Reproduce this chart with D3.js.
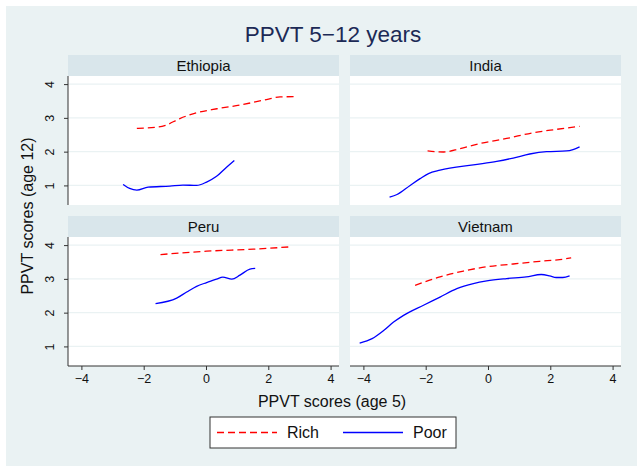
<!DOCTYPE html>
<html>
<head>
<meta charset="utf-8">
<script src="https://cdn.jsdelivr.net/npm/d3@7"></script>
<style>
  body { margin: 0; background: #fff; }
  svg { display: block; font-family: "Liberation Sans", Arial, Helvetica, sans-serif; }
</style>
</head>
<body>
<div id="chart"></div>
<script>
// data (x = PPVT age 5, y = PPVT age 12)
const countries = ["Ethiopia", "India", "Peru", "Vietnam"]
const xTicks = [-4, -2, 0, 2, 4]
const yTicks = [1, 2, 3, 4]

const ethiopiaRich = [[-2.22,2.69],[-1.6,2.72],[-1.3,2.78],[-0.84,2.98],[-0.42,3.12],[0.35,3.27],[1.09,3.38],[1.83,3.52],[2.38,3.62],[2.86,3.63]]
const ethiopiaPoor = [[-2.66,1.03],[-2.45,0.91],[-2.22,0.86],[-1.86,0.95],[-1.16,0.98],[-0.74,1.01],[-0.3,1.0],[0.02,1.10],[0.34,1.27],[0.66,1.54],[0.91,1.74]]
const indiaRich = [[-1.94,2.02],[-1.43,1.99],[-0.9,2.09],[-0.26,2.24],[0.6,2.39],[1.45,2.56],[2.2,2.66],[2.94,2.75]]
const indiaPoor = [[-3.16,0.65],[-2.92,0.73],[-2.5,1.0],[-2.18,1.2],[-1.91,1.35],[-1.54,1.45],[-0.47,1.61],[0.28,1.71],[0.81,1.81],[1.34,1.93],[1.88,2.0],[2.52,2.02],[2.73,2.06],[2.94,2.14]]
const peruRich = [[-1.46,3.72],[0.02,3.82],[1.52,3.88],[2.75,3.95]]
const peruPoor = [[-1.62,2.27],[-0.94,2.43],[-0.62,2.61],[-0.3,2.78],[0.02,2.89],[0.34,2.99],[0.54,3.05],[0.83,2.99],[1.09,3.11],[1.41,3.29],[1.58,3.31]]
const vietnamRich = [[-2.34,2.81],[-1.54,3.06],[-0.79,3.23],[-0.04,3.36],[0.81,3.44],[1.66,3.52],[2.3,3.57],[2.67,3.62]]
const vietnamPoor = [[-4.12,1.10],[-3.72,1.23],[-3.35,1.47],[-3.03,1.72],[-2.71,1.92],[-2.07,2.22],[-1.54,2.46],[-1.0,2.71],[-0.47,2.86],[-0.04,2.94],[0.6,3.01],[1.23,3.06],[1.71,3.13],[1.98,3.09],[2.19,3.04],[2.4,3.04],[2.62,3.09]]

const richSeries = [ethiopiaRich, indiaRich, peruRich, vietnamRich]
const poorSeries = [ethiopiaPoor, indiaPoor, peruPoor, vietnamPoor]

const W = 637, H = 466
const svg = d3.select('#chart').append('svg')
    .attr('width', W)
    .attr('height', H)

// background
svg.append('rect').attr('x', 6).attr('y', 6).attr('width', W - 6).attr('height', H - 6).attr('fill', '#eaf2f3')

// panel geometry
const panelW = 271, plotH = 129, stripH = 21
const colX = [68, 350]
const rowY = [55, 216]

const xScale = d3.scaleLinear().domain([-4.43, 4.27]).range([0, panelW])
const yScale = d3.scaleLinear().domain([0.42, 4.24]).range([plotH, 0])

const line = d3.line()
    .x(d => xScale(d[0]))
    .y(d => yScale(d[1]))
    .curve(d3.curveMonotoneX)

countries.forEach((name, i) => {
    const col = i % 2, row = Math.floor(i / 2)
    const g = svg.append('g')
        .attr('transform', `translate(${colX[col]}, ${rowY[row]})`)

    // strip
    g.append('rect').attr('width', panelW).attr('height', stripH).attr('fill', '#d9e6eb')
    g.append('text')
        .attr('x', panelW / 2).attr('y', 15.5)
        .attr('text-anchor', 'middle')
        .attr('font-size', 15)
        .attr('fill', '#111')
        .text(name)

    const p = g.append('g').attr('transform', `translate(0, ${stripH})`)
    p.append('rect').attr('width', panelW).attr('height', plotH).attr('fill', '#fff')

    // grid
    p.selectAll('.grid').data(yTicks).join('line')
        .attr('x1', 0).attr('x2', panelW)
        .attr('y1', d => yScale(d)).attr('y2', d => yScale(d))
        .attr('stroke', '#eaf2f3').attr('stroke-width', 1.2)

    // y axis on left column
    if (col === 0) {
        const yAxis = p.append('g').call(d3.axisLeft(yScale).tickValues(yTicks).tickSize(4).tickFormat(d3.format('d')))
        yAxis.select('.domain').attr('d', `M0,0V${plotH}`).attr('stroke', '#333')
        yAxis.selectAll('.tick line').attr('stroke', '#333')
        yAxis.selectAll('.tick text')
            .attr('x', null).attr('dy', null)
            .attr('transform', 'translate(-14,0) rotate(-90)')
            .attr('text-anchor', 'middle')
            .attr('font-size', 12.5)
            .attr('fill', '#111')
            .attr('font-family', null)
    }

    // x axis on bottom row
    if (row === 1) {
        const xAxis = p.append('g')
            .attr('transform', `translate(0, ${plotH})`)
            .call(d3.axisBottom(xScale).tickValues(xTicks).tickSize(4).tickFormat(d => d < 0 ? '\u2212' + Math.abs(d) : d))
        xAxis.select('.domain').attr('d', `M0,0H${panelW}`).attr('stroke', '#333')
        xAxis.selectAll('.tick line').attr('stroke', '#333')
        xAxis.selectAll('.tick text')
            .attr('y', 8)
            .attr('font-size', 12.5)
            .attr('fill', '#111')
            .attr('font-family', null)
    }

    // lines
    p.append('path')
        .attr('d', line(poorSeries[i]))
        .attr('fill', 'none')
        .attr('stroke', '#0000ff')
        .attr('stroke-width', 1.3)
    p.append('path')
        .attr('d', line(richSeries[i]))
        .attr('fill', 'none')
        .attr('stroke', '#ff0000')
        .attr('stroke-width', 1.3)
        .attr('stroke-dasharray', '7,4')
})

// titles
svg.append('text')
    .attr('x', 333).attr('y', 42)
    .attr('text-anchor', 'middle')
    .attr('font-size', 22.5)
    .attr('fill', '#1c2a56')
    .text('PPVT 5\u221212 years')

svg.append('text')
    .attr('x', 332).attr('y', 407)
    .attr('text-anchor', 'middle')
    .attr('font-size', 16)
    .attr('fill', '#111')
    .text('PPVT scores (age 5)')

svg.append('text')
    .attr('transform', 'translate(33, 216) rotate(-90)')
    .attr('text-anchor', 'middle')
    .attr('font-size', 16)
    .attr('fill', '#111')
    .text('PPVT scores (age 12)')

// legend
const legend = svg.append('g').attr('transform', 'translate(210, 417)')
legend.append('rect')
    .attr('width', 246).attr('height', 31)
    .attr('fill', '#fff').attr('stroke', '#333').attr('stroke-width', 1)
const legendItems = [
    { label: 'Rich', color: '#ff0000', dash: '7,4', x: 7 },
    { label: 'Poor', color: '#0000ff', dash: null, x: 133 }
]
legendItems.forEach(it => {
    legend.append('line')
        .attr('x1', it.x).attr('x2', it.x + 60)
        .attr('y1', 15.5).attr('y2', 15.5)
        .attr('stroke', it.color).attr('stroke-width', 1.3)
        .attr('stroke-dasharray', it.dash)
    legend.append('text')
        .attr('x', it.x + 70).attr('y', 21)
        .attr('font-size', 16)
        .attr('fill', '#111')
        .text(it.label)
})
</script>
</body>
</html>
